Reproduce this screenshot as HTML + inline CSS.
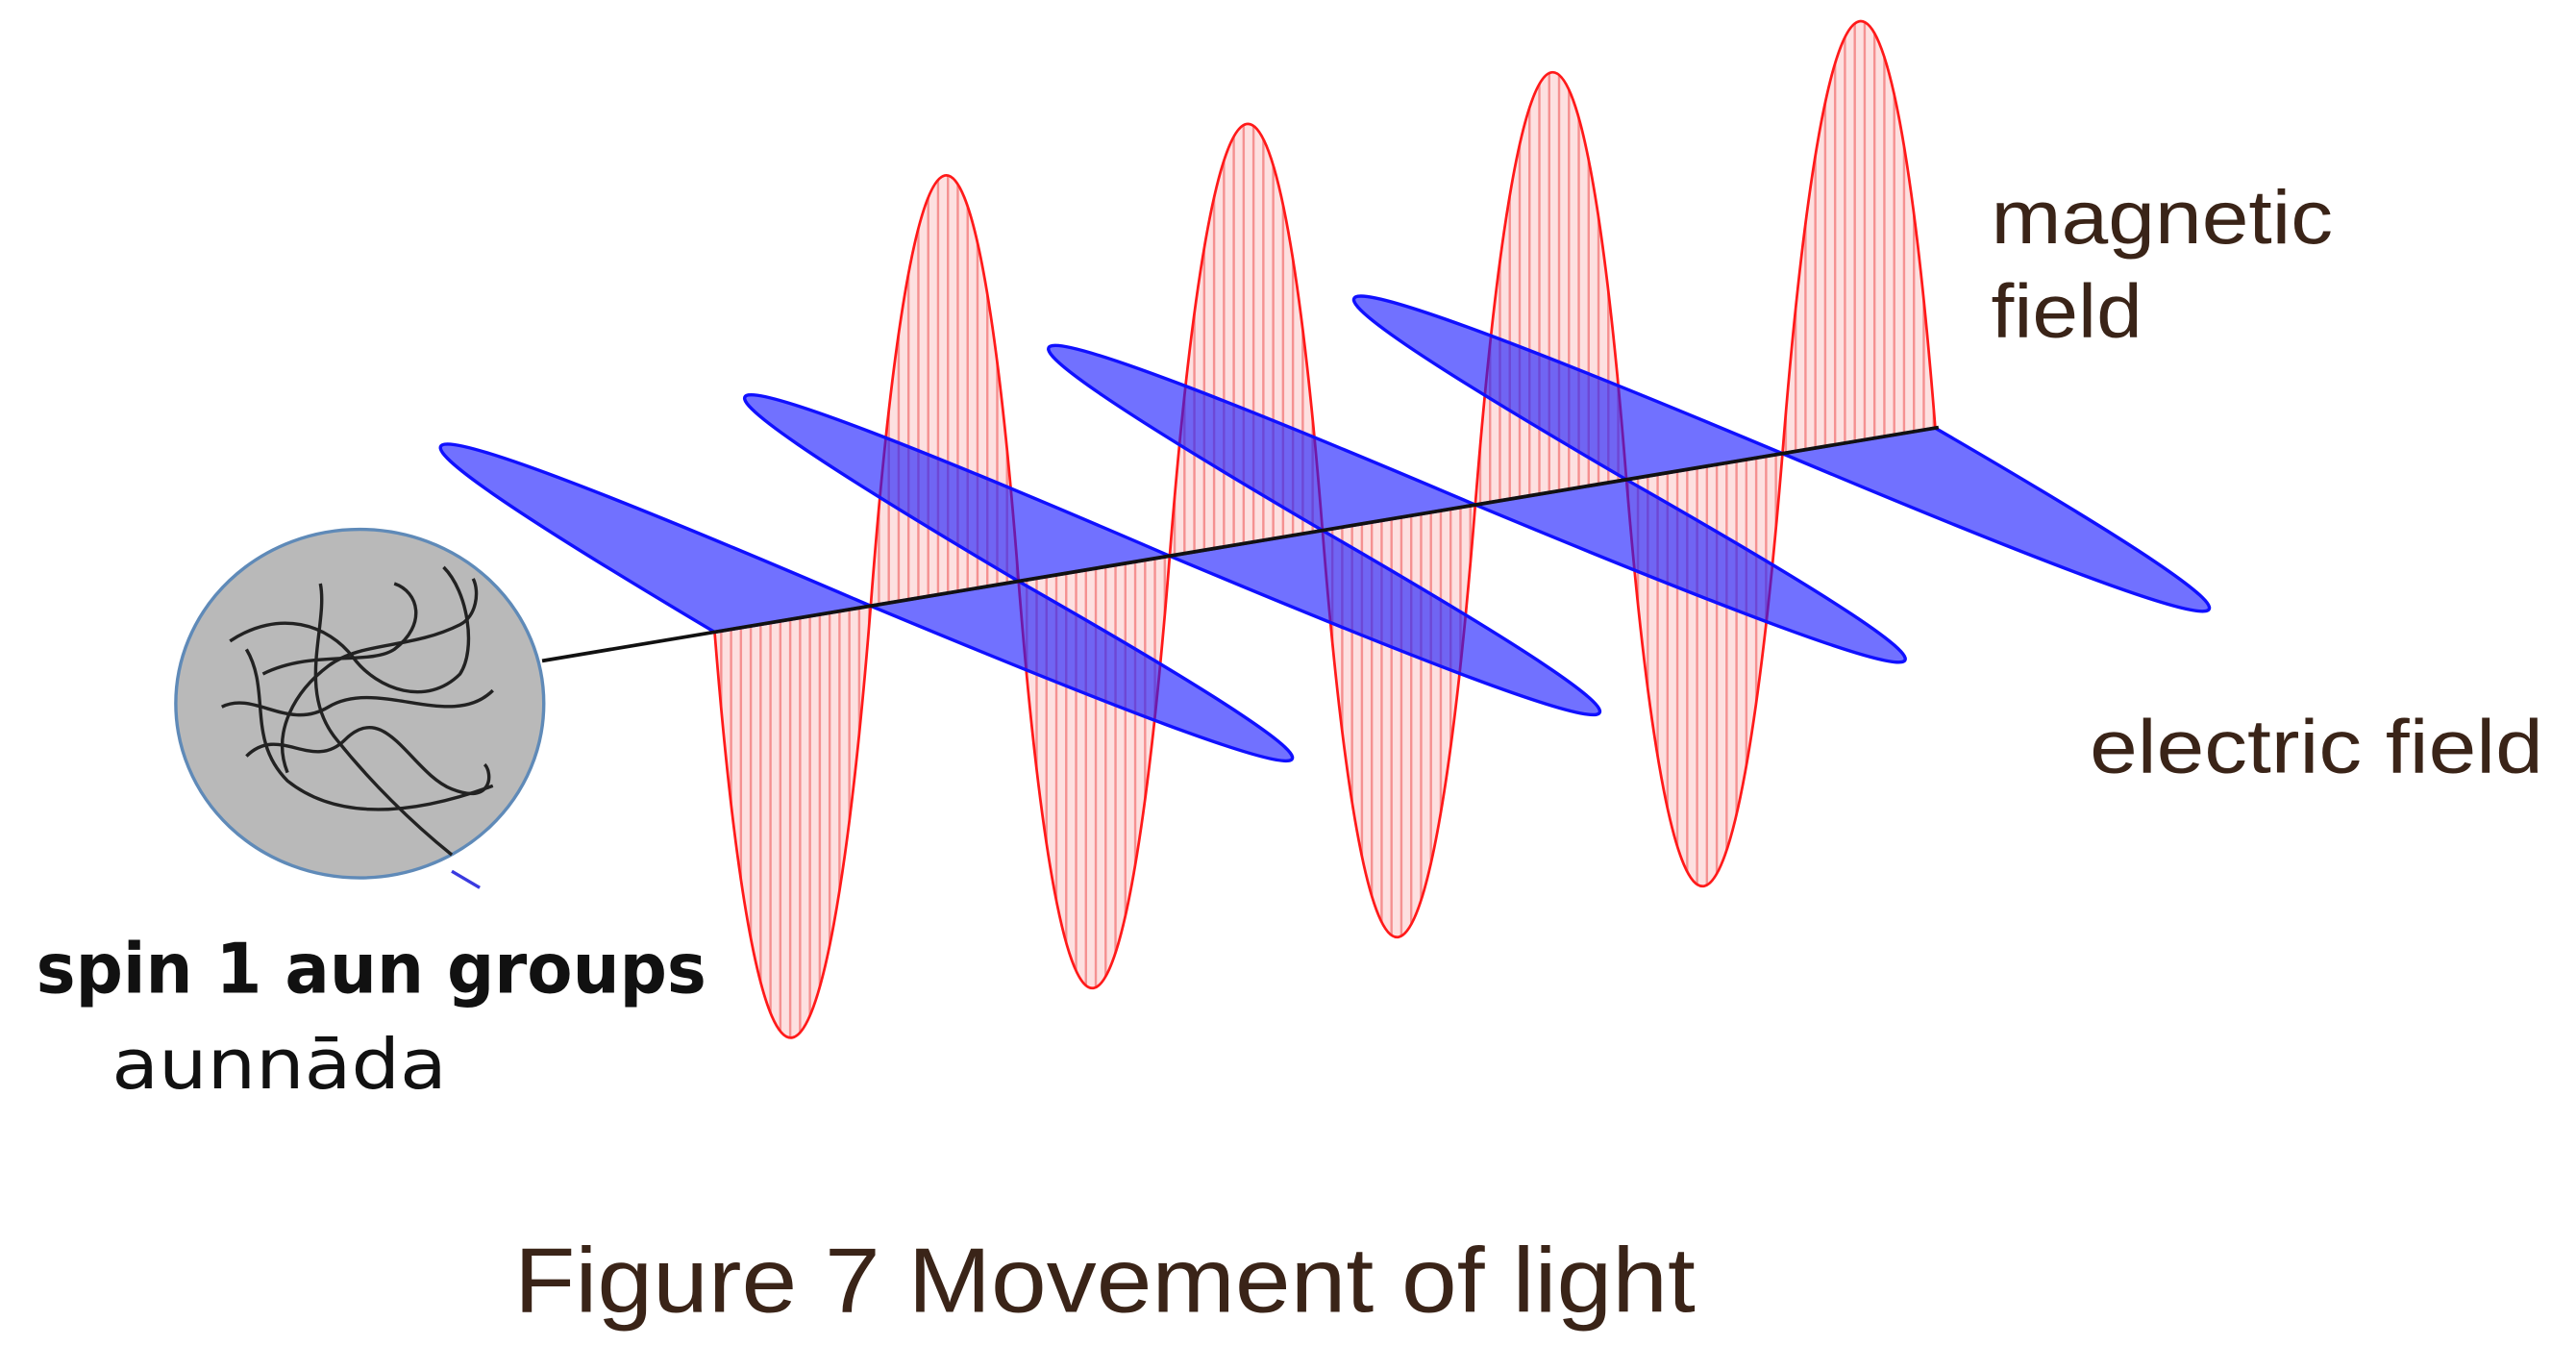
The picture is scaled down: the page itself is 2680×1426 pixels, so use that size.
<!DOCTYPE html>
<html><head><meta charset="utf-8"><style>
html,body{margin:0;padding:0;background:#fff}
svg{display:block}
</style></head><body>
<svg width="2680" height="1426" viewBox="0 0 1568 834" preserveAspectRatio="none" xmlns="http://www.w3.org/2000/svg">
<defs>
<pattern id="h" width="6" height="10" patternUnits="userSpaceOnUse">
<rect width="6" height="10" fill="#fde0e0"/>
<line x1="1" y1="0" x2="1" y2="10" stroke="#f59090" stroke-width="1.4"/>
</pattern>
</defs>
<rect width="1568" height="834" fill="#fff"/>
<ellipse cx="219" cy="428" rx="112" ry="106" fill="#b9b9b9" stroke="#5f8ab8" stroke-width="2"/>
<g fill="none" stroke="#222" stroke-width="2">
<path d="M140 390 C170 370 200 380 215 400 C230 420 260 430 280 410 C290 395 285 360 270 345"/>
<path d="M150 460 C170 440 190 470 210 450 C235 425 250 470 275 480 C300 490 300 470 295 465"/>
<path d="M160 410 C190 395 225 405 240 395 C260 380 255 360 240 355"/>
<path d="M195 355 C200 380 180 420 205 450 C225 475 250 500 275 520"/>
<path d="M135 430 C155 420 175 445 200 430 C230 412 275 445 300 420"/>
<path d="M175 470 C165 445 180 420 200 405 C220 390 250 395 280 380 C290 375 292 360 288 352"/>
<path d="M150 395 C165 420 150 450 175 475 C200 495 240 500 300 478"/>
</g>
<line x1="275" y1="530" x2="292" y2="540" stroke="#3a3ae0" stroke-width="2"/>
<g fill="url(#h)" stroke="#ff1a1a" stroke-width="1.6">
<path d="M435 384.5 C462 724 503 708 530 368.6 Z"/>
<path d="M530 368.6 C556 29 594 15 620 353.6 Z"/>
<path d="M620 353.6 C647 694 685 678 712 338.2 Z"/>
<path d="M712 338.2 C739 -2 778 -17 805 322.7 Z"/>
<path d="M805 322.7 C832 663 871 647 898 307.1 Z"/>
<path d="M898 307.1 C925 -33 963 -49 990 291.8 Z"/>
<path d="M990 291.8 C1018 632 1057 616 1085 275.9 Z"/>
<path d="M1085 275.9 C1112 -64 1151 -80 1178 260.4 Z"/>
</g>
<g fill="#1a1aff" fill-opacity="0.62" stroke="#1010ff" stroke-width="2" stroke-linejoin="round">
<path d="M435 384.5 C186.6 237.1 213.2 232.6 530 368.6 Z"/>
<path d="M530 368.6 C841.7 498.7 866.9 494.5 620 353.6 Z"/>
<path d="M620 353.6 C372.5 207.3 398.3 202.9 712 338.2 Z"/>
<path d="M712 338.2 C1029.5 471.6 1055.5 467.3 805 322.7 Z"/>
<path d="M805 322.7 C557.2 177.6 583.2 173.2 898 307.1 Z"/>
<path d="M898 307.1 C1215.7 439.3 1241.5 435 990 291.8 Z"/>
<path d="M990 291.8 C742.9 148 769.5 143.5 1085 275.9 Z"/>
<path d="M1085 275.9 C1399.8 408.4 1425.8 404.1 1178 260.4 Z"/>
</g>
<line x1="330" y1="402" x2="1180" y2="260" stroke="#111" stroke-width="2.2"/>
<g font-family="Liberation Sans, DejaVu Sans, sans-serif" fill="#3a2418">
<text x="1212" y="148" font-size="46" textLength="208" lengthAdjust="spacingAndGlyphs">magnetic</text>
<text x="1212" y="205" font-size="46" textLength="92" lengthAdjust="spacingAndGlyphs">field</text>
<text x="1272" y="470" font-size="46" textLength="276" lengthAdjust="spacingAndGlyphs">electric field</text>
<text x="313" y="798" font-size="56" textLength="719" lengthAdjust="spacingAndGlyphs">Figure 7 Movement of light</text>
</g>
<g font-family="DejaVu Sans, Liberation Sans, sans-serif" fill="#111">
<text x="22" y="604" font-size="42" font-weight="bold" textLength="408" lengthAdjust="spacingAndGlyphs">spin 1 aun groups</text>
<text x="68" y="662" font-size="42" textLength="204" lengthAdjust="spacingAndGlyphs">aunnāda</text>
</g>
</svg>
</body></html>
